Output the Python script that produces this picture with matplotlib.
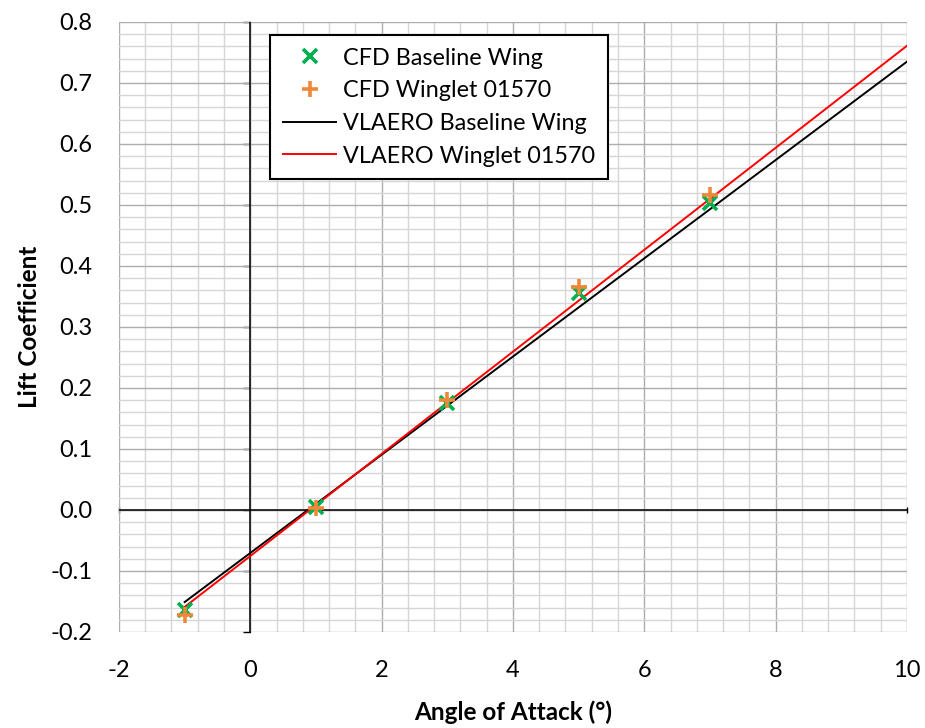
import matplotlib
matplotlib.use("Agg")
import matplotlib.pyplot as plt
from matplotlib.ticker import MultipleLocator, FormatStrFormatter, FixedLocator

plt.rcParams['font.family'] = ['Lato', 'DejaVu Sans']
plt.rcParams['axes.unicode_minus'] = False

# CFD results
aoa_cfd = [-1, 1, 3, 5, 7]
cl_cfd_baseline = [-0.164, 0.005, 0.175, 0.355, 0.504]
cl_cfd_winglet = [-0.172, 0.004, 0.181, 0.366, 0.516]

# VLAERO predictions
aoa_vlaero = [-1, 1, 3, 5, 7, 10]
cl_vlaero_baseline = [-0.151, 0.010, 0.171, 0.332, 0.493, 0.735]
cl_vlaero_winglet = [-0.159, 0.008, 0.176, 0.343, 0.510, 0.761]

fig = plt.figure(figsize=(9.25, 7.28), dpi=100)
ax = fig.add_axes([0.1286, 0.1319, 0.8519, 0.8379])

ax.set_xlim(-2, 10)
ax.set_ylim(-0.2, 0.8)
ax.xaxis.set_major_locator(MultipleLocator(2))
ax.xaxis.set_minor_locator(MultipleLocator(0.4))
ax.yaxis.set_major_locator(MultipleLocator(0.1))
ax.yaxis.set_minor_locator(MultipleLocator(0.02))
ax.yaxis.set_major_formatter(FormatStrFormatter('%.1f'))

ax.grid(which='minor', color='#d6d6d6', lw=1.0, zorder=0)
ax.grid(which='major', color='#adadad', lw=1.0, zorder=0)
ax.set_axisbelow(True)
for s in ax.spines.values():
    s.set_visible(False)
ax.tick_params(which='both', length=0, labelsize=17)
ax.tick_params(axis='x', pad=20)
ax.tick_params(axis='y', pad=19)

# zero axes: black lines plus short tick marks
ax.axhline(0, color='black', lw=1.1, zorder=2)
ax.axvline(0, color='black', lw=1.1, zorder=2)
sec_y = ax.secondary_yaxis(1 / 6)
sec_y.yaxis.set_major_locator(MultipleLocator(0.1))
sec_y.tick_params(length=5, width=1, direction='out', labelleft=False, color='black')
sec_x = ax.secondary_xaxis(0.2)
sec_x.xaxis.set_major_locator(FixedLocator([-2, 10]))
sec_x.tick_params(length=5, width=1, direction='inout', labelbottom=False, color='black')

ax.plot(aoa_vlaero, cl_vlaero_baseline, color='black', lw=1.4, label='VLAERO Baseline Wing', zorder=3)
ax.plot(aoa_vlaero, cl_vlaero_winglet, color='#ff0000', lw=1.4, label='VLAERO Winglet 01570', zorder=3)
ax.plot(aoa_cfd, cl_cfd_baseline, ls='none', marker='x', ms=10, mew=2.6, color='#00b050',
        label='CFD Baseline Wing', zorder=4)
ax.plot(aoa_cfd, cl_cfd_winglet, ls='none', marker='+', ms=11, mew=2.6, color='#f0883a',
        label='CFD Winglet 01570', zorder=5)

handles, labels = ax.get_legend_handles_labels()
order = [2, 3, 0, 1]
leg = ax.legend([handles[i] for i in order], [labels[i] for i in order],
                loc='upper left', bbox_to_anchor=(0.1915, 0.979), borderaxespad=0,
                fontsize=16.8, frameon=True, fancybox=False, edgecolor='black',
                framealpha=1, handlelength=2.3, labelspacing=0.5, handletextpad=0.28,
                borderpad=0.55)
leg.get_frame().set_linewidth(1.5)
leg.set_zorder(10)

ax.set_xlabel('Angle of Attack (°)', fontsize=17.5, fontweight='bold', labelpad=14)
ax.set_ylabel('Lift Coefficient', fontsize=17.5, fontweight='bold', labelpad=7)

fig.savefig('out.png', dpi=100)
